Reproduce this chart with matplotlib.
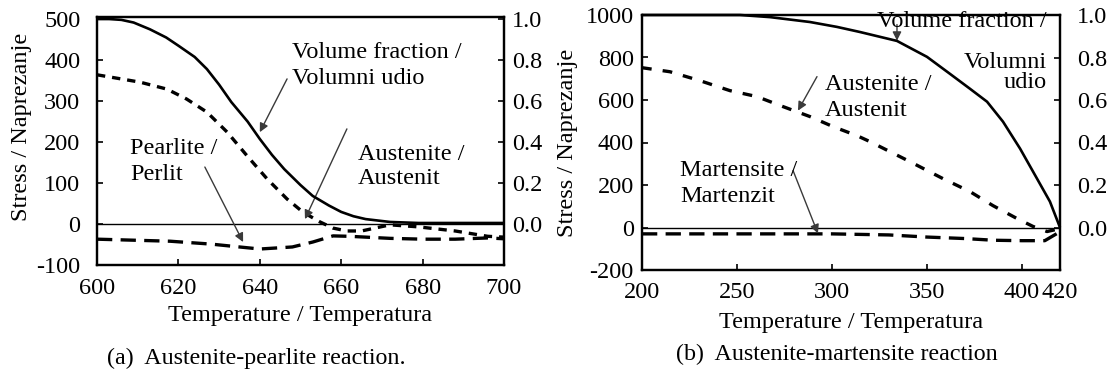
import matplotlib
matplotlib.use("Agg")
import matplotlib.pyplot as plt
from matplotlib import font_manager as fm

_names = {f.name for f in fm.fontManager.ttflist}
SERIF = next((n for n in ['Liberation Serif', 'Times New Roman', 'Nimbus Roman', 'DejaVu Serif']
              if n in _names), 'serif')
plt.rcParams['font.family'] = [SERIF, 'DejaVu Serif']
plt.rcParams['lines.scale_dashes'] = False
plt.rcParams['axes.unicode_minus'] = False

# ---------------- Panel (a): austenite-pearlite ----------------
a_vf_T = [600, 603, 606, 609, 613, 617, 620, 624, 627, 630, 633, 637, 640, 643, 646, 650,
          653, 657, 660, 663, 666, 672, 679, 700]
a_vf = [1.0, 1.0, 0.996, 0.983, 0.95, 0.91, 0.87, 0.815, 0.756, 0.68, 0.595, 0.5, 0.415,
        0.337, 0.268, 0.19, 0.137, 0.09, 0.059, 0.038, 0.024, 0.01, 0.005, 0.005]

a_aus_T = [600, 610.6, 617.2, 622, 627, 632, 636.9, 641.8, 646.7, 650.6, 654.8, 658, 661.4,
           665, 672, 679, 688, 696, 700]
a_aus = [364, 346, 329, 305, 273, 224, 166, 110, 61, 29, 5, -10, -17,
         -17, -2, -7, -17, -30, -32]

a_per_T = [600, 618, 628, 635, 640, 648, 653, 658, 662, 666, 672, 680, 688, 696, 700]
a_per = [-37, -42, -49, -56, -61, -56, -44, -29, -30, -32, -35, -37, -37, -34, -36]

# ---------------- Panel (b): austenite-martensite ----------------
b_vf_T = [200, 251.6, 267.4, 288.4, 302.6, 314.7, 334.2, 350, 362.1, 372.6, 381.6, 390, 399, 407.9, 414.7, 420]
b_vf = [1.0, 1.0, 0.99, 0.967, 0.944, 0.92, 0.878, 0.803, 0.723, 0.653, 0.592, 0.498, 0.371, 0.23, 0.122, 0.0]

b_aus_T = [200, 214.7, 230.5, 246.3, 260.5, 274.2, 288.4, 300.5, 313.2, 320, 341, 358.4, 372.6, 384.7,
           397.4, 405.8, 413.2, 420]
b_aus = [752, 733, 691, 644, 616, 569, 522, 475, 432, 404, 310, 230, 169, 103, 42, 5, -19, -5]

b_mar_T = [200, 250, 300, 330, 350, 370, 385, 400, 412, 420]
b_mar = [-30, -30, -30, -35, -45, -52, -60, -62, -62, -20]

a_xticks = [600, 620, 640, 660, 680, 700]
a_yticks = [-100, 0, 100, 200, 300, 400, 500]
b_xticks = [200, 250, 300, 350, 400, 420]
b_yticks = [-200, 0, 200, 400, 600, 800, 1000]
vf_ticks = [0.0, 0.2, 0.4, 0.6, 0.8, 1.0]

FS = 17.5
W, H = 1109, 372
fig = plt.figure(figsize=(W / 100, H / 100), dpi=100)


def px_axes(l, t, r, b):
    return fig.add_axes([l / W, 1 - b / H, (r - l) / W, (b - t) / H])


arrowkw = dict(arrowstyle='-|>', color='#3a3a3a', lw=1.0, mutation_scale=13,
               shrinkA=0, shrinkB=0)


def style(ax, ax2, lpad, rpad):
    for s in ax.spines.values():
        s.set_linewidth(1.6)
    for s in ax2.spines.values():
        s.set_linewidth(1.6)
    ax.tick_params(axis='both', direction='in', length=4, width=1.2, labelsize=FS,
                   labelfontfamily=SERIF)
    ax.tick_params(axis='y', pad=lpad)
    ax.tick_params(axis='x', pad=9)
    ax2.tick_params(axis='y', direction='in', length=4, width=1.2, labelsize=FS, pad=rpad,
                    labelfontfamily=SERIF)
    ax2.set_yticks(vf_ticks)
    ax2.set_yticklabels([f"{v:.1f}" for v in vf_ticks])


solid_kw = dict(color='black', lw=1.9, solid_capstyle='butt', solid_joinstyle='round')
short_kw = dict(color='black', lw=2.4, dashes=(6, 5))
long_kw = dict(color='black', lw=2.4, dashes=(11, 6))
LS = 1.3

# ---------- (a) ----------
ax = px_axes(97, 17, 504, 265)
ax.set_xlim(600, 700)
ax.set_ylim(-100, 505)
ax2 = ax.twinx()
ax2.set_ylim(-0.2, 1.01)
ax.axhline(0, color='black', lw=1.0)
ax2.plot(a_vf_T, a_vf, **solid_kw)
ax.plot(a_aus_T, a_aus, **short_kw)
ax.plot(a_per_T, a_per, **long_kw)
ax.set_xticks(a_xticks)
ax.set_yticks(a_yticks)
style(ax, ax2, 12, 6)
ax.set_xlabel('Temperature / Temperatura', fontsize=FS, labelpad=5)
ax.set_ylabel('Stress / Naprezanje', fontsize=FS)
ax.yaxis.set_label_coords(-0.160, 0.556)

ax.annotate('', xy=(640, 224), xytext=(646.7, 354), arrowprops=arrowkw)
ax.text(648, 386, 'Volume fraction /\nVolumni udio', fontsize=FS, ha='left', va='center',
        linespacing=LS)
ax.annotate('', xy=(651.1, 12), xytext=(661.4, 232), arrowprops=arrowkw)
ax.text(664.1, 141, 'Austenite /\nAustenit', fontsize=FS, ha='left', va='center',
        linespacing=1.2)
ax.annotate('', xy=(635.9, -44), xytext=(626.5, 139), arrowprops=arrowkw)
ax.text(608.1, 152, 'Pearlite /\nPerlit', fontsize=FS, ha='left', va='center',
        linespacing=LS)

# ---------- (b) ----------
bx = px_axes(642, 15, 1060, 270)
bx.set_xlim(200, 420)
bx.set_ylim(-200, 1000)
bx2 = bx.twinx()
bx2.set_ylim(-0.2, 1.0)
bx.axhline(0, color='black', lw=1.0)
bx2.plot(b_vf_T, b_vf, **solid_kw, clip_on=False)
bx.plot(b_aus_T, b_aus, color='black', lw=2.4, dashes=(7, 8))
bx.plot(b_mar_T, b_mar, **long_kw)
bx.set_xticks(b_xticks)
bx.set_yticks(b_yticks)
style(bx, bx2, 6, 12)
bx.set_xlabel('Temperature / Temperatura', fontsize=FS, labelpad=6)
bx.set_ylabel('Stress / Naprezanje', fontsize=FS)
bx.yaxis.set_label_coords(-0.153, 0.5)

bx.annotate('', xy=(334.2, 879), xytext=(334.2, 955), arrowprops=arrowkw)
bx.text(413.2, 968, 'Volume fraction /', fontsize=FS, ha='right', va='center')
bx.text(413.2, 730, 'Volumni\nudio', fontsize=FS, ha='right', va='center', linespacing=0.95)
bx.annotate('', xy=(282.1, 550), xytext=(292.1, 710), arrowprops=arrowkw)
bx.text(296.3, 613, 'Austenite /\nAustenit', fontsize=FS, ha='left', va='center',
        linespacing=LS)
bx.annotate('', xy=(292.6, -28), xytext=(279.5, 268), arrowprops=arrowkw)
bx.text(220, 207, 'Martensite /\nMartenzit', fontsize=FS, ha='left', va='center',
        linespacing=LS)

# captions
fig.text(256 / W, 1 - 358 / H, '(a)  Austenite-pearlite reaction.', fontsize=17.3,
         ha='center', va='center')
fig.text(837 / W, 1 - 354 / H, '(b)  Austenite-martensite reaction', fontsize=17.3,
         ha='center', va='center')

fig.savefig('out.png', dpi=100)
